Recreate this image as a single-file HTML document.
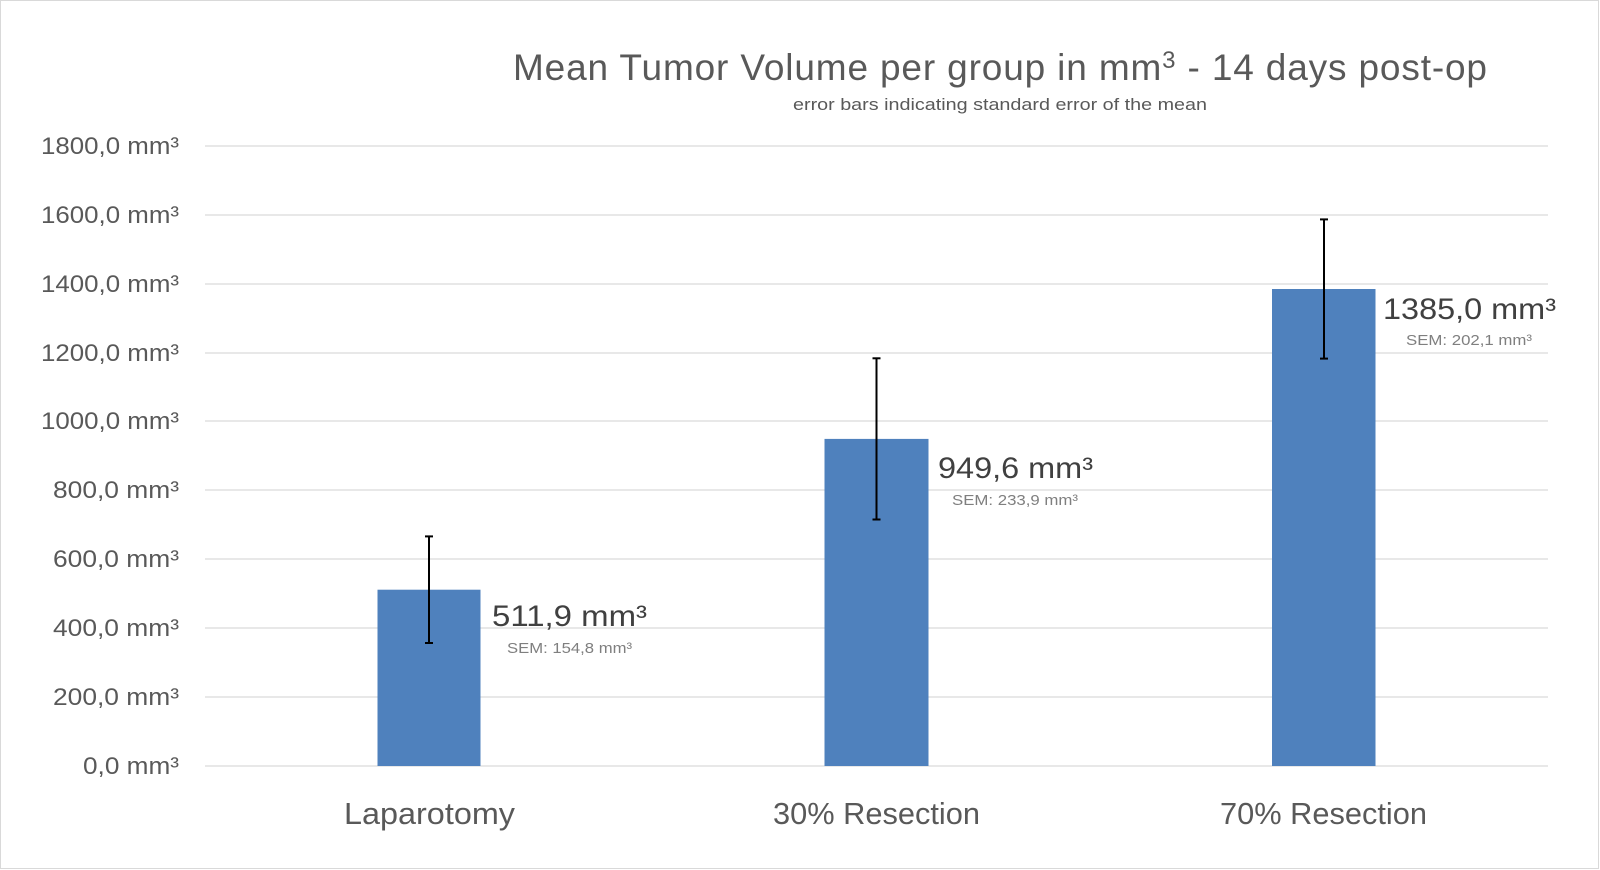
<!DOCTYPE html>
<html><head><meta charset="utf-8"><style>
html,body{margin:0;padding:0;background:#fff}
svg{display:block}
text{font-family:"Liberation Sans",sans-serif}
</style></head><body>
<svg width="1600" height="870" viewBox="0 0 1600 870" xmlns="http://www.w3.org/2000/svg">
<rect x="0.5" y="0.5" width="1598" height="868" fill="#fff" stroke="#d9d9d9"/>
<g stroke="#d9d9d9" stroke-width="1.3">
<line x1="205" x2="1548" y1="146" y2="146"/>
<line x1="205" x2="1548" y1="215" y2="215"/>
<line x1="205" x2="1548" y1="284" y2="284"/>
<line x1="205" x2="1548" y1="353" y2="353"/>
<line x1="205" x2="1548" y1="421" y2="421"/>
<line x1="205" x2="1548" y1="490" y2="490"/>
<line x1="205" x2="1548" y1="559" y2="559"/>
<line x1="205" x2="1548" y1="628" y2="628"/>
<line x1="205" x2="1548" y1="697" y2="697"/>
<line x1="205" x2="1548" y1="766" y2="766"/>
</g>
<text x="513" y="80" font-size="37" fill="#595959" textLength="974" lengthAdjust="spacing">Mean Tumor Volume per group in mm<tspan font-size="24" dy="-12">3</tspan><tspan dy="12"> - 14 days post-op</tspan></text>
<text x="793" y="110" font-size="17" fill="#595959" textLength="414" lengthAdjust="spacingAndGlyphs">error bars indicating  standard error of the mean</text>
<g font-size="24" fill="#595959">
<text x="41" y="154" textLength="138" lengthAdjust="spacingAndGlyphs">1800,0 mm³</text>
<text x="41" y="223" textLength="138" lengthAdjust="spacingAndGlyphs">1600,0 mm³</text>
<text x="41" y="292" textLength="138" lengthAdjust="spacingAndGlyphs">1400,0 mm³</text>
<text x="41" y="361" textLength="138" lengthAdjust="spacingAndGlyphs">1200,0 mm³</text>
<text x="41" y="429" textLength="138" lengthAdjust="spacingAndGlyphs">1000,0 mm³</text>
<text x="53" y="498" textLength="126" lengthAdjust="spacingAndGlyphs">800,0 mm³</text>
<text x="53" y="567" textLength="126" lengthAdjust="spacingAndGlyphs">600,0 mm³</text>
<text x="53" y="636" textLength="126" lengthAdjust="spacingAndGlyphs">400,0 mm³</text>
<text x="53" y="705" textLength="126" lengthAdjust="spacingAndGlyphs">200,0 mm³</text>
<text x="83" y="774" textLength="96" lengthAdjust="spacingAndGlyphs">0,0 mm³</text>
</g>
<g fill="#4f81bd">
<rect x="377.5" y="589.7" width="103" height="176.3"/>
<rect x="824.5" y="438.9" width="104" height="327.1"/>
<rect x="1272" y="289" width="103.5" height="477"/>
</g>
<g stroke="#000" stroke-width="2">
<line x1="429" x2="429" y1="536.4" y2="643"/><line x1="425" x2="433" y1="536.4" y2="536.4"/><line x1="425" x2="433" y1="643" y2="643"/>
<line x1="876.5" x2="876.5" y1="358.3" y2="519.5"/><line x1="872.5" x2="880.5" y1="358.3" y2="358.3"/><line x1="872.5" x2="880.5" y1="519.5" y2="519.5"/>
<line x1="1324" x2="1324" y1="219.4" y2="358.6"/><line x1="1320" x2="1328" y1="219.4" y2="219.4"/><line x1="1320" x2="1328" y1="358.6" y2="358.6"/>
</g>
<g font-size="30" fill="#404040">
<text x="492" y="626" textLength="155" lengthAdjust="spacingAndGlyphs">511,9 mm³</text>
<text x="938" y="478" textLength="155" lengthAdjust="spacingAndGlyphs">949,6 mm³</text>
<text x="1383" y="319" textLength="173" lengthAdjust="spacingAndGlyphs">1385,0 mm³</text>
</g>
<g font-size="15" fill="#7f7f7f">
<text x="507" y="653" textLength="125" lengthAdjust="spacingAndGlyphs">SEM: 154,8 mm³</text>
<text x="952" y="505" textLength="126" lengthAdjust="spacingAndGlyphs">SEM: 233,9 mm³</text>
<text x="1406" y="345" textLength="126" lengthAdjust="spacingAndGlyphs">SEM: 202,1 mm³</text>
</g>
<g font-size="31" fill="#595959">
<text x="344" y="824" textLength="171" lengthAdjust="spacingAndGlyphs">Laparotomy</text>
<text x="773" y="824" textLength="207" lengthAdjust="spacingAndGlyphs">30% Resection</text>
<text x="1220" y="824" textLength="207" lengthAdjust="spacingAndGlyphs">70% Resection</text>
</g>
</svg>
</body></html>
